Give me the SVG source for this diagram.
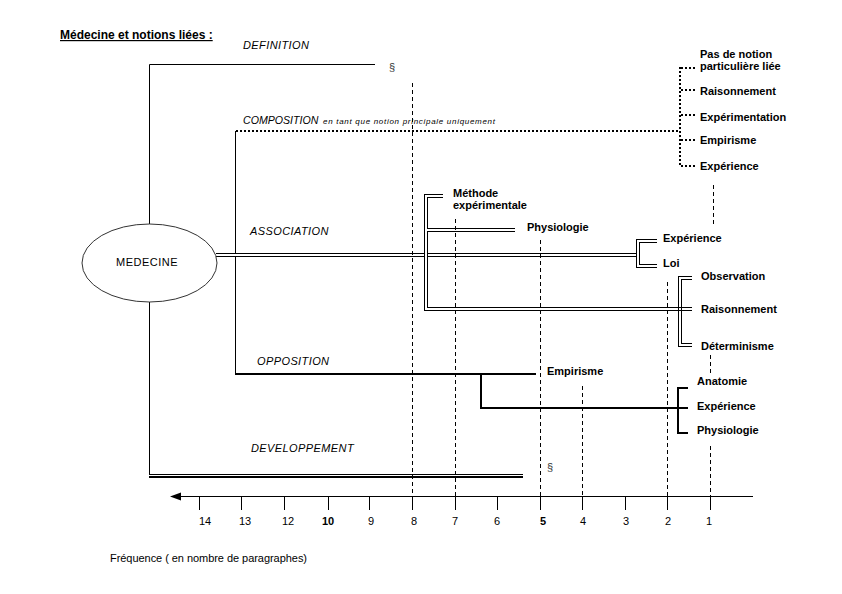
<svg xmlns="http://www.w3.org/2000/svg" width="842" height="594" viewBox="0 0 842 594">
<style>
text{font-family:"Liberation Sans",Arial,sans-serif;fill:#000}
.b{font-weight:bold;font-size:11px}
.h{font-style:italic;font-size:11px;letter-spacing:0.4px}
.n{font-size:11px}
.t{font-size:11px;text-anchor:middle}
.tb{font-size:11px;font-weight:bold;text-anchor:middle}
.s1{fill:none;stroke:#000;stroke-width:1}
.s2{fill:none;stroke:#000;stroke-width:2}
.dk{fill:none;stroke:#000;stroke-width:4}
.dw{fill:none;stroke:#fff;stroke-width:2}
.dot{fill:none;stroke:#000;stroke-width:2;stroke-dasharray:2 2}
.dash{fill:none;stroke:#000;stroke-width:1;stroke-dasharray:4 3}
</style>
<rect width="842" height="594" fill="#fff"/>
<text x="60" y="39" style="font-size:12px;font-weight:bold;text-decoration:underline">Médecine et notions liées :</text>

<g id="connectors">
  <!-- definition -->
  <path class="s1" d="M149.5,224 V64.5 H375"/>
  <!-- development -->
  <path class="s1" d="M149.5,302 V475"/>
  <line class="s1" x1="149" y1="474.5" x2="523" y2="474.5"/>
  <line class="s2" x1="149" y1="477" x2="523" y2="477"/>
  <!-- composition -->
  <path class="s1" d="M235.5,131 V374"/>
  <path class="dot" d="M236,131 H680"/>
  <path class="dot" d="M680,67 V167"/>
  <path class="dot" d="M681,68 H697 M681,90 H697 M681,115 H697 M681,140 H697 M681,166 H697"/>
  <!-- association (double lines) -->
  <path class="dk" d="M216,255 H638"/>
  <path class="dw" d="M216,255 H638"/>
  <path class="dk" d="M657,241 H638 V266 H657"/>
  <path class="dw" d="M657,241 H638 V266 H657"/>
  <path class="dk" d="M443,196 H426 V309 H692"/>
  <path class="dw" d="M443,196 H426 V309 H692"/>
  <path class="dk" d="M427,230 H515"/>
  <path class="dw" d="M427,230 H515"/>
  <path class="dk" d="M692,278 H680 V345 H692"/>
  <path class="dw" d="M692,278 H680 V345 H692"/>
  <line class="s1" x1="678" y1="307.5" x2="692" y2="307.5"/>
  <line class="s1" x1="678" y1="310.5" x2="692" y2="310.5"/>
  <!-- opposition -->
  <path class="s2" d="M235,374 H536"/>
  <path class="s2" d="M481,374 V408 H688"/>
  <path class="s2" d="M688,388 H678 V433 H688"/>
  <!-- frequency dashed guides -->
  <path class="dash" d="M412.5,83 V496 M455.5,219 V496 M540.5,240 V496 M582.5,386 V496 M667.5,282 V496 M713.5,185 V227 M710.5,355 V373 M710.5,446 V496"/>
</g>

<g id="medecine">
  <ellipse cx="149.5" cy="263" rx="67.5" ry="39" fill="#fff" stroke="#333" stroke-width="1"/>
  <text x="147" y="266" class="n" style="text-anchor:middle;letter-spacing:0.5px">MEDECINE</text>
</g>

<g id="definition">
  <text x="243" y="49" class="h">DEFINITION</text>
  <text x="389" y="71" class="n" style="fill:#333">§</text>
</g>

<g id="composition">
  <text x="243" y="124" style="font-style:italic;font-size:10.6px">COMPOSITION</text>
  <text x="323" y="124" style="font-style:italic;font-size:8px" textLength="172" lengthAdjust="spacing">en tant que notion principale uniquement</text>
  <text x="700" y="58" class="b">Pas de notion</text>
  <text x="700" y="70" class="b">particulière liée</text>
  <text x="700" y="95" class="b">Raisonnement</text>
  <text x="700" y="121" class="b">Expérimentation</text>
  <text x="700" y="144" class="b">Empirisme</text>
  <text x="700" y="170" class="b">Expérience</text>
</g>

<g id="association">
  <text x="250" y="235" class="h">ASSOCIATION</text>
  <text x="453" y="197" class="b">Méthode</text>
  <text x="453" y="209" class="b">expérimentale</text>
  <text x="527" y="231" class="b">Physiologie</text>
  <text x="663" y="242" class="b">Expérience</text>
  <text x="663" y="267" class="b">Loi</text>
  <text x="701" y="280" class="b">Observation</text>
  <text x="701" y="313" class="b">Raisonnement</text>
  <text x="701" y="350" class="b">Déterminisme</text>
</g>

<g id="opposition">
  <text x="257" y="365" class="h">OPPOSITION</text>
  <text x="547" y="375" class="b">Empirisme</text>
  <text x="697" y="385" class="b">Anatomie</text>
  <text x="697" y="410" class="b">Expérience</text>
  <text x="697" y="434" class="b">Physiologie</text>
</g>

<g id="developpement">
  <text x="251" y="452" class="h">DEVELOPPEMENT</text>
  <text x="547" y="471" class="n" style="fill:#333">§</text>
</g>

<g id="axis">
  <line class="s1" x1="178" y1="496.5" x2="753" y2="496.5"/>
  <polygon points="170,496.5 181,492.5 181,500.5" fill="#000"/>
  <path class="s1" d="M199.5,496 V510 M241.5,496 V510 M284.5,496 V510 M328.5,496 V510 M369.5,496 V510 M412.5,496 V510 M455.5,496 V510 M497.5,496 V510 M540.5,496 V510 M582.5,496 V510 M625.5,496 V510 M667.5,496 V510 M710.5,496 V510"/>
  <text x="205" y="525" class="t">14</text>
  <text x="245" y="525" class="t">13</text>
  <text x="288" y="525" class="t">12</text>
  <text x="328" y="525" class="tb">10</text>
  <text x="371" y="525" class="t">9</text>
  <text x="414" y="525" class="t">8</text>
  <text x="455" y="525" class="t">7</text>
  <text x="497" y="525" class="t">6</text>
  <text x="543" y="525" class="tb">5</text>
  <text x="583" y="525" class="t">4</text>
  <text x="626" y="525" class="t">3</text>
  <text x="668" y="525" class="t">2</text>
  <text x="709" y="525" class="t">1</text>
  <text x="110" y="562" class="n" textLength="197" lengthAdjust="spacing">Fréquence ( en nombre de paragraphes)</text>
</g>
</svg>
